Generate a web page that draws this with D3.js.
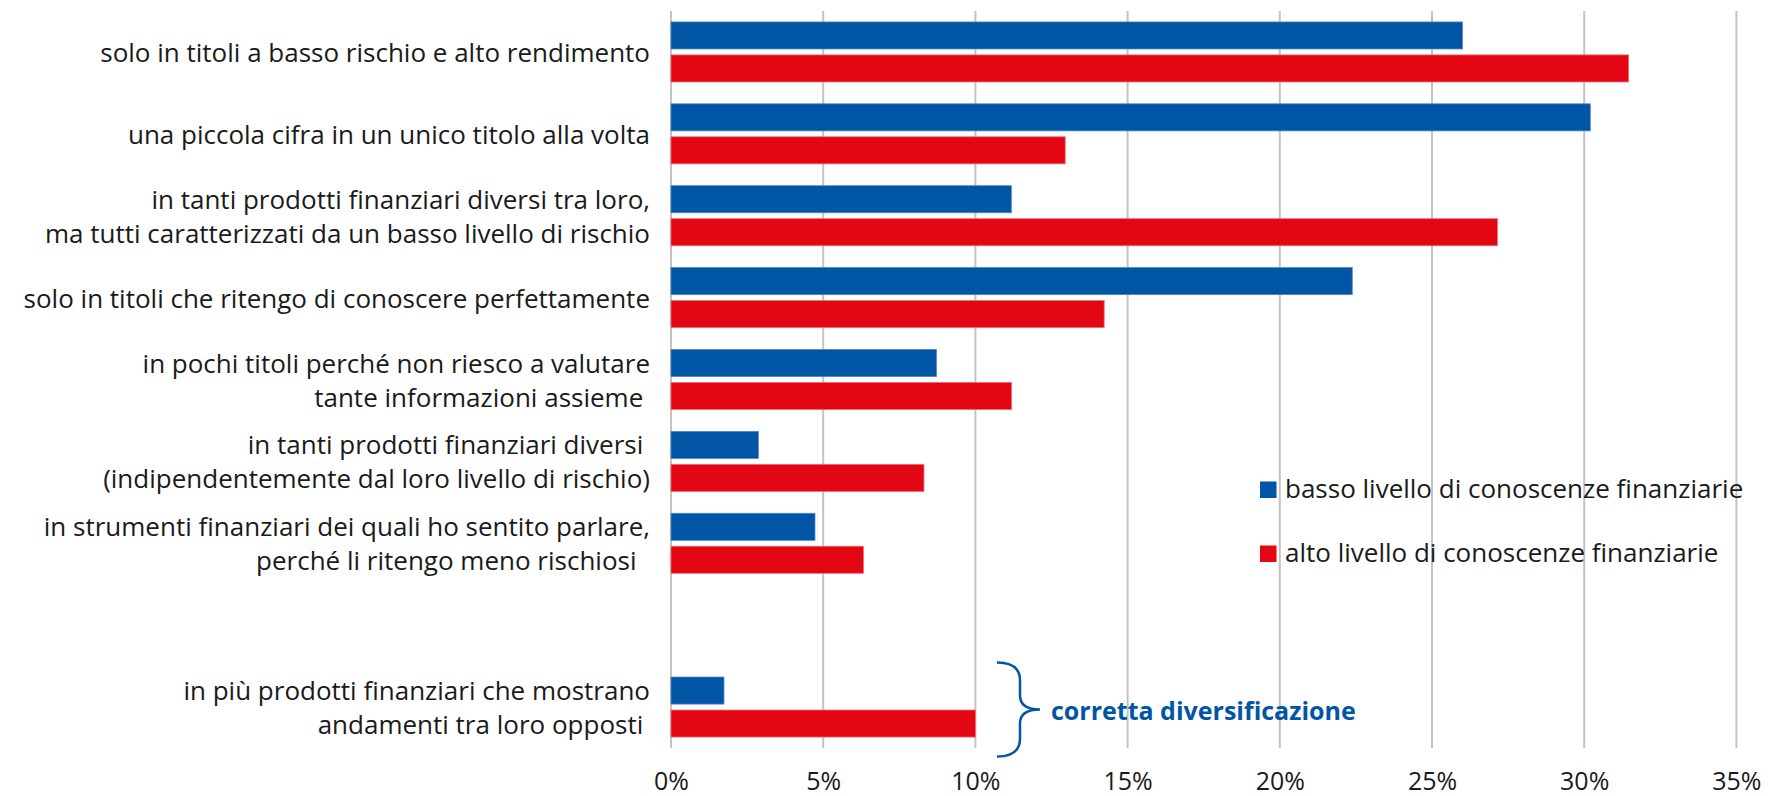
<!DOCTYPE html>
<html>
<head>
<meta charset="utf-8">
<script src="https://cdn.jsdelivr.net/npm/d3@7"></script>
<style>
  html, body { margin: 0; padding: 0; background: #fff; }
  svg { display: block; }
  text { font-family: "Open Sans", "Noto Sans", sans-serif; fill: #1a1a1a; white-space: pre; font-variant-ligatures: none; }
</style>
</head>
<body>
<svg id="chart" width="1768" height="796"></svg>
<script>
// ---- data ----
const categories = [
  ["solo in titoli a basso rischio e alto rendimento"],
  ["una piccola cifra in un unico titolo alla volta"],
  ["in tanti prodotti finanziari diversi tra loro,", "ma tutti caratterizzati da un basso livello di rischio"],
  ["solo in titoli che ritengo di conoscere perfettamente"],
  ["in pochi titoli perché non riesco a valutare", "tante informazioni assieme "],
  ["in tanti prodotti finanziari diversi ", "(indipendentemente dal loro livello di rischio)"],
  ["in strumenti finanziari dei quali ho sentito parlare,", "perché li ritengo meno rischiosi  "],
  [],
  ["in più prodotti finanziari che mostrano", "andamenti tra loro opposti "]
];
const seriesNames = ["basso livello di conoscenze finanziarie", "alto livello di conoscenze finanziarie"];
const basso = [26.0, 30.2, 11.18, 22.38, 8.72, 2.87, 4.73, null, 1.74];
const alto  = [31.46, 12.95, 27.15, 14.23, 11.19, 8.31, 6.32, null, 10.0];
const xTicks = [0, 5, 10, 15, 20, 25, 30, 35];
const annotation = "corretta diversificazione";
const annotatedIndex = 8;

const colors = ["#0055A4", "#E30613"];
const gridColor = "#C3C3C3";

// ---- layout ----
const svg = d3.select("#chart");
const pLeft = 671, pRight = 1736.4, pTop = 11, pBottom = 748;
const FS = 26;

const x = d3.scaleLinear().domain([0, 35]).range([pLeft, pRight]);
const y = d3.scaleBand().domain(d3.range(categories.length)).range([pTop, pBottom])
  .paddingInner(0.267).paddingOuter(0.1335);
const ySub = d3.scaleBand().domain([0, 1]).range([0, y.bandwidth()]).paddingInner(0.18);

// gridlines
svg.append("g").selectAll("line").data(xTicks).join("line")
  .attr("x1", d => x(d)).attr("x2", d => x(d))
  .attr("y1", pTop).attr("y2", pBottom)
  .attr("stroke", gridColor).attr("stroke-width", 2);

// tick labels via axis
const axis = d3.axisBottom(x).tickValues(xTicks).tickFormat(d => d + "%").tickSize(0).tickPadding(0);
const ag = svg.append("g").attr("transform", `translate(0, ${pBottom})`).call(axis);
ag.select(".domain").remove();
ag.selectAll("text").attr("font-size", 25).attr("font-family", "'Open Sans', 'Noto Sans', sans-serif")
  .attr("fill", "#1a1a1a").attr("dy", null).attr("y", 42);

// bars
const series = [basso, alto];
series.forEach((vals, si) => {
  svg.append("g").selectAll("rect")
    .data(vals.map((v, i) => ({ v, i })).filter(d => d.v != null))
    .join("rect")
    .attr("x", x(0))
    .attr("y", d => y(d.i) + ySub(si))
    .attr("width", d => x(d.v) - x(0))
    .attr("height", ySub.bandwidth())
    .attr("fill", colors[si])
    .attr("stroke", si === 0 ? "#4d86c4" : "#ee6b72")
    .attr("stroke-width", 0.8);
});

// category labels
const lg = svg.append("g");
categories.forEach((lines, i) => {
  const cy = y(i) + y.bandwidth() / 2;
  const n = lines.length;
  lines.forEach((t, j) => {
    lg.append("text")
      .attr("x", 650)
      .attr("y", cy + (j - (n - 1) / 2) * 34)
      .attr("text-anchor", "end")
      .attr("dominant-baseline", "central")
      .attr("font-size", FS)
      .text(t);
  });
});

// legend
const legend = svg.append("g");
seriesNames.forEach((name, i) => {
  const ly = 498 + i * 64;
  legend.append("rect").attr("x", 1260).attr("y", ly - 16.5).attr("width", 16.5).attr("height", 16.5)
    .attr("fill", colors[i]);
  legend.append("text").attr("x", 1285).attr("y", ly).attr("font-size", FS).text(name);
});

// brace annotation
const bTop = y(annotatedIndex) - 14.5, bBot = y(annotatedIndex) + y.bandwidth() + 19.5;
const bMid = (bTop + bBot) / 2;
const bx0 = 997, bx1 = 1020, bx2 = 1040;
const brace = d3.path();
brace.moveTo(bx0, bTop);
brace.bezierCurveTo(bx0 + 16, bTop, bx1, bTop + 6, bx1, bTop + 18);
brace.lineTo(bx1, bMid - 14);
brace.bezierCurveTo(bx1, bMid - 4, bx1 + 8, bMid, bx2, bMid);
brace.bezierCurveTo(bx1 + 8, bMid, bx1, bMid + 4, bx1, bMid + 14);
brace.lineTo(bx1, bBot - 18);
brace.bezierCurveTo(bx1, bBot - 6, bx0 + 16, bBot, bx0, bBot);
svg.append("path").attr("d", brace.toString()).attr("fill", "none")
  .attr("stroke", colors[0]).attr("stroke-width", 2.5);
svg.append("text").attr("x", 1051).attr("y", bMid).attr("dominant-baseline", "central")
  .attr("font-size", 25).attr("font-weight", "bold").style("fill", colors[0]).text(annotation);
</script>
</body>
</html>
